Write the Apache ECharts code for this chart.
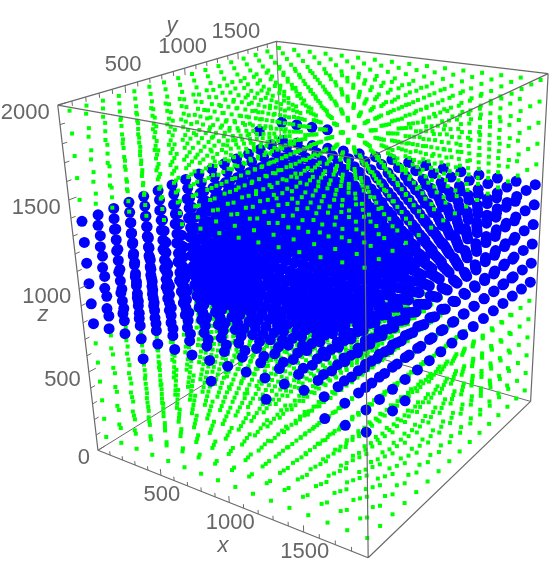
<!DOCTYPE html>
<html>
<head>
<meta charset="utf-8">
<style>html,body{margin:0;background:#fff}#main{width:550px;height:577px}</style>
<script src="https://cdn.jsdelivr.net/npm/echarts@6/dist/echarts.min.js"></script>
</head>
<body>
<div id="main"></div>
<script>
// lattice levels
const latticeX = [40, 162, 284, 406, 528, 650, 772, 894, 1016, 1138, 1260, 1382, 1504, 1626, 1748, 1870];
const latticeY = [40, 162, 284, 406, 528, 650, 772, 894, 1016, 1138, 1260, 1382, 1504, 1626, 1748, 1870];
const latticeZ = [80, 198, 316, 434, 552, 670, 788, 906, 1024, 1142, 1260, 1378, 1496, 1614, 1732, 1850, 1968];
// z levels that are blue, all the others are green
const blueZ = [788, 906, 1024, 1142, 1260, 1378];
// the few blue points that stick out below and above the slab
const extraBlue = [
  [406, 40, 670], [894, 40, 670], [1260, 40, 670], [1626, 40, 670], [1748, 40, 670], [1870, 40, 670], [1870, 284, 670], [1870, 406, 670],
  [40, 1870, 1496], [162, 1870, 1496], [284, 1870, 1496], [406, 1870, 1496], [40, 1626, 1496],
];

const xTicks = [500, 1000, 1500];
const yTicks = [500, 1000, 1500];
const zTicks = [0, 500, 1000, 1500, 2000];
const xMinor = [100, 200, 300, 400, 600, 700, 800, 900, 1100, 1200, 1300, 1400, 1600, 1700, 1800];
const yMinor = [100, 200, 300, 400, 600, 700, 800, 900, 1100, 1200, 1300, 1400, 1600, 1700, 1800];
const zMinor = [100, 200, 300, 400, 600, 700, 800, 900, 1100, 1200, 1300, 1400, 1600, 1700, 1800, 1900];

const xMax = 1900, yMax = 1900, zMax = 2000;

// camera: where the box corners land on the page
const corners = [
  [0, 0, 0, 96.7, 450], [xMax, 0, 0, 367.5, 557.5], [0, yMax, 0, 290, 332], [xMax, yMax, 0, 530, 402],
  [0, 0, zMax, 58.3, 105.5], [xMax, 0, zMax, 366, 160], [0, yMax, zMax, 275, 41.5], [xMax, yMax, zMax, 548, 73],
];

// least squares fit of the perspective matrix
function fitCamera(pts) {
  const n = 11, A = [], b = [];
  for (let i = 0; i < n; i++) { A.push(new Array(n).fill(0)); b.push(0); }
  const add = (row, v) => {
    for (let i = 0; i < n; i++) {
      b[i] += row[i] * v;
      for (let j = 0; j < n; j++) A[i][j] += row[i] * row[j];
    }
  };
  pts.forEach(([X, Y, Z, u, v]) => {
    X /= 1000; Y /= 1000; Z /= 1000;
    add([X, Y, Z, 1, 0, 0, 0, 0, -u * X, -u * Y, -u * Z], u);
    add([0, 0, 0, 0, X, Y, Z, 1, -v * X, -v * Y, -v * Z], v);
  });
  for (let c = 0; c < n; c++) {
    let p = c;
    for (let r = c + 1; r < n; r++) if (Math.abs(A[r][c]) > Math.abs(A[p][c])) p = r;
    [A[c], A[p]] = [A[p], A[c]];
    [b[c], b[p]] = [b[p], b[c]];
    for (let r = 0; r < n; r++) {
      if (r === c) continue;
      const f = A[r][c] / A[c][c];
      for (let k = c; k < n; k++) A[r][k] -= f * A[c][k];
      b[r] -= f * b[c];
    }
  }
  return b.map((v, i) => v / A[i][i]);
}
const cam = fitCamera(corners);

function project(x, y, z) {
  const X = x / 1000, Y = y / 1000, Z = z / 1000;
  const w = cam[8] * X + cam[9] * Y + cam[10] * Z + 1;
  return [(cam[0] * X + cam[1] * Y + cam[2] * Z + cam[3]) / w, (cam[4] * X + cam[5] * Y + cam[6] * Z + cam[7]) / w, w];
}

const isBlue = (x, y, z) => blueZ.includes(z) || extraBlue.some(e => e[0] === x && e[1] === y && e[2] === z);

// points, far ones first so the near ones cover them
const points = [];
latticeX.forEach(x => latticeY.forEach(y => latticeZ.forEach(z => {
  const p = project(x, y, z);
  points.push([p[0], p[1], isBlue(x, y, z) ? 1 : 0, p[2]]);
})));
points.sort((a, b) => b[3] - a[3]);

function seg(list, a, b) {
  const p = project(a[0], a[1], a[2]), q = project(b[0], b[1], b[2]);
  list.push([p[0], p[1]], [q[0], q[1]], [null, null]);
}

const backEdges = [], frontEdges = [], tickSegs = [];
seg(backEdges, [0, 0, 0], [0, yMax, 0]);
seg(backEdges, [0, yMax, 0], [xMax, yMax, 0]);
seg(backEdges, [0, yMax, 0], [0, yMax, zMax]);
seg(frontEdges, [0, 0, 0], [xMax, 0, 0]);
seg(frontEdges, [xMax, 0, 0], [xMax, yMax, 0]);
seg(frontEdges, [0, 0, 0], [0, 0, zMax]);
seg(frontEdges, [xMax, 0, 0], [xMax, 0, zMax]);
seg(frontEdges, [xMax, yMax, 0], [xMax, yMax, zMax]);
seg(frontEdges, [0, 0, zMax], [xMax, 0, zMax]);
seg(frontEdges, [0, 0, zMax], [0, yMax, zMax]);
seg(frontEdges, [xMax, 0, zMax], [xMax, yMax, zMax]);
seg(frontEdges, [0, yMax, zMax], [xMax, yMax, zMax]);

const minorLen = 25, majorLen = 40;
xMinor.forEach(v => seg(tickSegs, [v, 0, 0], [v, 0, minorLen]));
xTicks.forEach(v => seg(tickSegs, [v, 0, 0], [v, 0, majorLen]));
yMinor.forEach(v => seg(tickSegs, [0, v, zMax], [0, v, zMax - minorLen]));
yTicks.forEach(v => seg(tickSegs, [0, v, zMax], [0, v, zMax - majorLen]));
zMinor.forEach(v => seg(tickSegs, [0, 0, v], [0, minorLen * 1.4, v]));
zTicks.forEach(v => seg(tickSegs, [0, 0, v], [0, majorLen * 1.4, v]));

// text: px, py, string, align, italic
const labels = [];
xTicks.forEach(v => { const p = project(v, 0, 0); labels.push([p[0] + 1, p[1] + 20, String(v), 'center', 0]); });
yTicks.forEach(v => { const p = project(0, v, zMax); labels.push([p[0] - 2, p[1] - 21, String(v), 'center', 0]); });
zTicks.forEach(v => { const p = project(0, 0, v); labels.push([p[0] - 8, p[1] + 8, String(v), 'right', 0]); });
labels.push([223, 546, 'x', 'center', 1], [172, 26, 'y', 'center', 1], [43, 315, 'z', 'center', 1]);

const chart = echarts.init(document.getElementById('main'), null, { renderer: 'canvas' });
const edgeLine = (data, z, w) => ({
  type: 'line', data, z, showSymbol: false, silent: true, connectNulls: false,
  lineStyle: { color: '#6a6a6a', width: w }, animation: false,
});
chart.setOption({
  animation: false,
  backgroundColor: '#fff',
  tooltip: { show: false },
  grid: { left: 0, right: 0, top: 0, bottom: 0 },
  xAxis: { type: 'value', min: 0, max: 550, show: false },
  yAxis: { type: 'value', min: 0, max: 577, inverse: true, show: false },
  series: [
    edgeLine(backEdges, 1, 1),
    {
      type: 'scatter',
      z: 2,
      data: points,
      progressive: 0,
      silent: true,
      symbol: v => (v[2] ? 'circle' : 'rect'),
      symbolSize: v => (v[2] ? 11 : 4),
      itemStyle: { opacity: 1, color: p => (p.value[2] ? '#0000ff' : '#00ff00') },
    },
    edgeLine(frontEdges, 3, 1.2),
    edgeLine(tickSegs, 3, 1),
    {
      type: 'custom',
      z: 4,
      silent: true,
      data: labels.map((l, i) => [l[0], l[1], i]),
      renderItem: (params, api) => {
        const l = labels[api.value(2)];
        const c = api.coord([api.value(0), api.value(1)]);
        return {
          type: 'text',
          x: c[0], y: c[1],
          style: {
            text: l[2],
            textAlign: l[3], textVerticalAlign: 'middle',
            fill: '#666666',
            font: (l[4] ? 'italic ' : '') + '22px "Liberation Sans"',
          },
        };
      },
    },
  ],
});
</script>
</body>
</html>
